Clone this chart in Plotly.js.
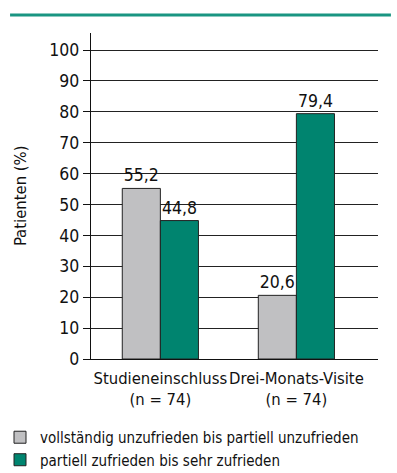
<!DOCTYPE html>
<html><head><meta charset="utf-8">
<script src="https://cdn.plot.ly/plotly-3.0.1.min.js"></script>
<style>html,body{margin:0;padding:0;background:#fff}#c{width:397px;height:473px}</style>
</head><body><div id="c"></div>
<script>
const categories = ["Studieneinschluss<br>(n = 74)", "Drei-Monats-Visite<br>(n = 74)"];
const seriesNames = ["vollständig unzufrieden bis partiell unzufrieden", "partiell zufrieden bis sehr zufrieden"];
const unzufrieden = [55.2, 20.6];
const zufrieden = [44.8, 79.4];
const yTicks = [0,10,20,30,40,50,60,70,80,90,100];
const yTitle = 'Patienten (%)';
const colors = ["#c0c0c2", "#00846f"];

const FONT = "DejaVu Sans Condensed, sans-serif";
const fmt = v => v.toFixed(1).replace('.', ',');

const mk = (vals, i) => ({
  type: 'bar', x: [0,1], y: vals, name: seriesNames[i],
  marker: {color: colors[i], line: {color: '#222', width: 1}},
  text: vals.map(fmt), textposition: 'outside', cliponaxis: false,
  textfont: {family: FONT, size: 17.5, color: '#111'}
});

const layout = {
  width: 397, height: 473,
  margin: {l: 91, r: 19, t: 33, b: 114, autoexpand: false},
  paper_bgcolor: '#fff', plot_bgcolor: '#fff',
  font: {family: FONT, size: 17, color: '#111'},
  barmode: 'group', bargap: 0.44, bargroupgap: 0,
  showlegend: true,
  legend: {xref: 'container', yref: 'container', x: 0, xanchor: 'left', y: 0.11, yanchor: 'top', orientation: 'v',
    font: {family: FONT, size: 15, color: '#111'}, tracegroupgap: 0, itemclick: false,
    bgcolor: 'rgba(0,0,0,0)', borderwidth: 0},
  xaxis: {
    range: [-0.51, 1.6], tickvals: [0,1], ticktext: categories, tickangle: 0,
    showline: true, linecolor: '#111', linewidth: 1, ticks: '', showgrid: false,
    zeroline: false, ticklabelstandoff: 4, tickfont: {family: FONT, size: 16.5, color: '#111'}
  },
  yaxis: {
    range: [0, 105.5], tickvals: yTicks, ticktext: yTicks.map(String),
    showline: true, linecolor: '#111', linewidth: 1.2,
    ticks: 'outside', ticklen: 7, tickcolor: '#111', tickwidth: 1,
    showgrid: true, gridcolor: '#222', gridwidth: 1, zeroline: false,
    tickfont: {family: FONT, size: 17.5, color: '#111'}
  },
  annotations: [{text: yTitle, xref: 'paper', yref: 'paper', x: -0.247, y: 0.5,
    xanchor: 'center', yanchor: 'middle', textangle: -90, showarrow: false,
    font: {family: FONT, size: 16.5, color: '#111'}}],
  shapes: [{type: 'line', xref: 'paper', yref: 'paper', x0: -0.282, x1: 1.045, y0: 1.055, y1: 1.055,
    line: {color: '#1a9582', width: 3}}]
};

Plotly.newPlot('c', [mk(unzufrieden, 0), mk(zufrieden, 1)], layout, {displayModeBar: false, staticPlot: true});
</script></body></html>
